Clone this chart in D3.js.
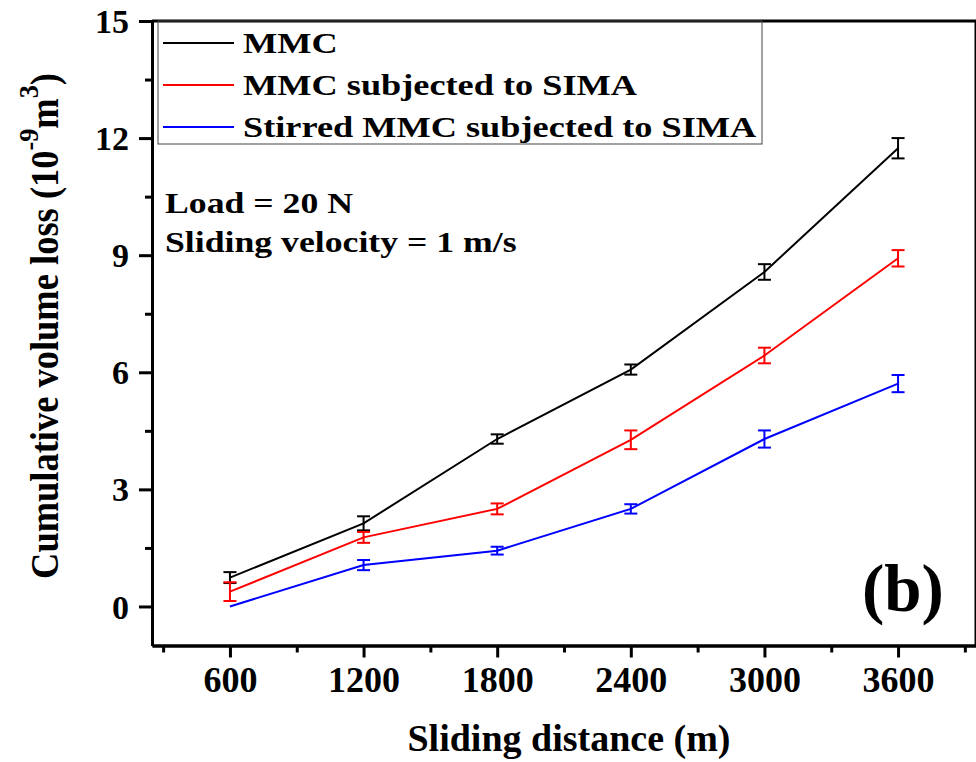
<!DOCTYPE html>
<html>
<head>
<meta charset="utf-8">
<script src="https://cdn.jsdelivr.net/npm/d3@7"></script>
<style>
  body { margin: 0; background: #fff; }
  svg text { font-family: "Liberation Serif", "Times New Roman", serif; font-weight: bold; fill: #000; }
  .axis path, .axis line { stroke: #000; stroke-width: 3; }
</style>
</head>
<body>
<div id="chart"></div>
<script>
// Sliding distance (m)
const distances = [600, 1200, 1800, 2400, 3000, 3600];

// Cumulative volume loss (10^-9 m^3) and error bar half-widths
const mmc = [0.74, 2.13, 4.29, 6.07, 8.57, 11.74];
const mmcErr = [0.14, 0.18, 0.12, 0.13, 0.2, 0.26];
const mmcSima = [0.38, 1.77, 2.5, 4.27, 6.43, 8.92];
const mmcSimaErr = [0.24, 0.14, 0.14, 0.24, 0.2, 0.21];
const stirred = [0.0, 1.06, 1.43, 2.5, 4.29, 5.71];
const stirredErr = [0.0, 0.13, 0.1, 0.12, 0.22, 0.22];

const seriesNames = ["MMC", "MMC subjected to SIMA", "Stirred MMC subjected to SIMA"];
const seriesColors = ["#000000", "#ff0000", "#0000ff"];

const yMajorTicks = [0, 3, 6, 9, 12, 15];
const yMinorTicks = [1.5, 4.5, 7.5, 10.5, 13.5];
const xMinorTicks = [300, 900, 1500, 2100, 2700, 3300, 3900];

const width = 976;
const height = 762;

const svg = d3.select("#chart")
  .append("svg")
  .attr("width", width)
  .attr("height", height);

// Scales (plot frame runs off the right edge, as in the original)
const x = d3.scaleLinear().domain([250, 3950]).range([152, 976]);
const y = d3.scaleLinear().domain([-1, 15]).range([645.5, 21]);

// Top and right frame
svg.append("line")
  .attr("x1", x(250)).attr("x2", x(3950))
  .attr("y1", y(15)).attr("y2", y(15))
  .attr("stroke", "#000").attr("stroke-width", 3);
svg.append("line")
  .attr("x1", x(3950)).attr("x2", x(3950))
  .attr("y1", y(15)).attr("y2", y(-1))
  .attr("stroke", "#000").attr("stroke-width", 3);

// Minor ticks first
svg.append("g")
  .attr("class", "axis")
  .attr("transform", `translate(${x(250)},0)`)
  .call(d3.axisLeft(y).tickValues(yMinorTicks).tickSize(7).tickSizeOuter(0).tickFormat(""));
svg.append("g")
  .attr("class", "axis")
  .attr("transform", `translate(0,${y(-1)})`)
  .call(d3.axisBottom(x).tickValues(xMinorTicks).tickSize(7).tickSizeOuter(0).tickFormat(""));

// Major ticks with labels
const yAxis = svg.append("g")
  .attr("class", "axis")
  .attr("transform", `translate(${x(250)},0)`)
  .call(d3.axisLeft(y).tickValues(yMajorTicks).tickSize(13).tickSizeOuter(0).tickPadding(10));
yAxis.selectAll("text")
  .style("font-size", "34px")
  .attr("dy", "0.34em");

const xAxis = svg.append("g")
  .attr("class", "axis")
  .attr("transform", `translate(0,${y(-1)})`)
  .call(d3.axisBottom(x).tickValues(distances).tickSize(12).tickSizeOuter(0)
    .tickPadding(9).tickFormat(d3.format("d")));
xAxis.selectAll("text")
  .style("font-size", "36px")
  .attr("dy", "0.72em");

// Series
const allSeries = [
  { values: mmc, errs: mmcErr },
  { values: mmcSima, errs: mmcSimaErr },
  { values: stirred, errs: stirredErr }
];

const line = d3.line()
  .x(d => x(d.dist))
  .y(d => y(d.value));

allSeries.forEach((s, i) => {
  const pts = distances.map((dist, j) => ({ dist: dist, value: s.values[j], err: s.errs[j] }));
  const color = seriesColors[i];

  svg.append("path")
    .datum(pts)
    .attr("fill", "none")
    .attr("stroke", color)
    .attr("stroke-width", 2)
    .attr("d", line);

  const bars = svg.append("g")
    .selectAll("g")
    .data(pts.filter(d => d.err > 0))
    .enter()
    .append("g")
    .attr("stroke", color)
    .attr("stroke-width", 2);

  bars.append("line")
    .attr("x1", d => x(d.dist)).attr("x2", d => x(d.dist))
    .attr("y1", d => y(d.value - d.err)).attr("y2", d => y(d.value + d.err));
  bars.append("line")
    .attr("x1", d => x(d.dist) - 6.5).attr("x2", d => x(d.dist) + 6.5)
    .attr("y1", d => y(d.value + d.err)).attr("y2", d => y(d.value + d.err));
  bars.append("line")
    .attr("x1", d => x(d.dist) - 6.5).attr("x2", d => x(d.dist) + 6.5)
    .attr("y1", d => y(d.value - d.err)).attr("y2", d => y(d.value - d.err));
});

// Legend
svg.append("rect")
  .attr("x", 158)
  .attr("y", 21)
  .attr("width", 604)
  .attr("height", 123)
  .attr("fill", "none")
  .attr("stroke", "#444")
  .attr("stroke-width", 1);

seriesNames.forEach((name, i) => {
  const ly = 43 + i * 42;
  svg.append("line")
    .attr("x1", 163).attr("x2", 234)
    .attr("y1", ly).attr("y2", ly)
    .attr("stroke", seriesColors[i])
    .attr("stroke-width", 2);
  svg.append("text")
    .attr("transform", `translate(243,${ly + 10}) scale(1.21,1)`)
    .style("font-size", "30px")
    .text(name);
});

// Test conditions
svg.append("text")
  .attr("transform", "translate(165,213) scale(1.19,1)")
  .style("font-size", "30px")
  .text("Load = 20 N");
svg.append("text")
  .attr("transform", "translate(165,252) scale(1.19,1)")
  .style("font-size", "30px")
  .text("Sliding velocity = 1 m/s");

// Panel label
svg.append("text")
  .attr("x", 862)
  .attr("y", 611)
  .style("font-size", "67px")
  .text("(b)");

// X axis title
svg.append("text")
  .attr("x", 569)
  .attr("y", 751)
  .attr("text-anchor", "middle")
  .style("font-size", "38px")
  .text("Sliding distance (m)");

// Y axis title
const yTitle = svg.append("text")
  .attr("transform", "translate(58,326) rotate(-90) scale(0.935,1)")
  .attr("text-anchor", "middle")
  .style("font-size", "39px");
yTitle.append("tspan").text("Cumulative volume loss (10");
yTitle.append("tspan").attr("dy", -20).style("font-size", "28px").text("-9");
yTitle.append("tspan").attr("dy", 20).text("m");
yTitle.append("tspan").attr("dy", -20).style("font-size", "28px").text("3");
yTitle.append("tspan").attr("dy", 20).text(")");
</script>
</body>
</html>
